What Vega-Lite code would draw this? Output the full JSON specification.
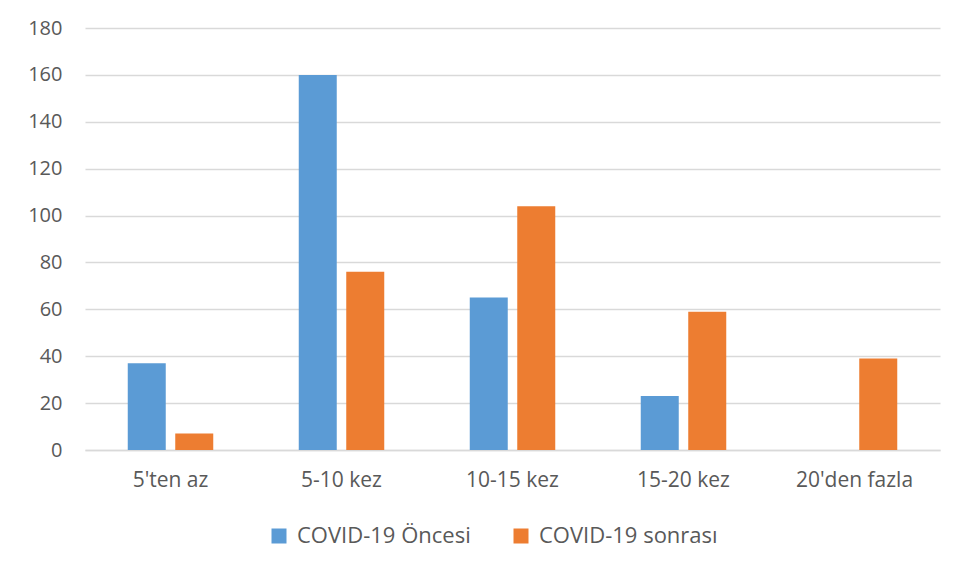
{
  "$schema": "https://vega.github.io/schema/vega-lite/v6.json",
  "width": 855,
  "height": 422,
  "autosize": {"type": "none"},
  "padding": {"left": 85, "top": 28, "right": 19, "bottom": 126},
  "background": "white",
  "config": {
    "view": {"stroke": null},
    "font": "Open Sans"
  },
  "data": {
    "values": [
      {"kategori": "5'ten az", "donem": "COVID-19 Öncesi", "deger": 37},
      {"kategori": "5'ten az", "donem": "COVID-19 sonrası", "deger": 7},
      {"kategori": "5-10 kez", "donem": "COVID-19 Öncesi", "deger": 160},
      {"kategori": "5-10 kez", "donem": "COVID-19 sonrası", "deger": 76},
      {"kategori": "10-15 kez", "donem": "COVID-19 Öncesi", "deger": 65},
      {"kategori": "10-15 kez", "donem": "COVID-19 sonrası", "deger": 104},
      {"kategori": "15-20 kez", "donem": "COVID-19 Öncesi", "deger": 23},
      {"kategori": "15-20 kez", "donem": "COVID-19 sonrası", "deger": 59},
      {"kategori": "20'den fazla", "donem": "COVID-19 Öncesi", "deger": 0},
      {"kategori": "20'den fazla", "donem": "COVID-19 sonrası", "deger": 39}
    ]
  },
  "mark": {"type": "bar"},
  "encoding": {
    "x": {
      "field": "kategori",
      "type": "nominal",
      "sort": ["5'ten az", "5-10 kez", "10-15 kez", "15-20 kez", "20'den fazla"],
      "scale": {"paddingInner": 0.5, "paddingOuter": 0.25},
      "axis": {
        "title": null,
        "labelAngle": 0,
        "labelFont": "Open Sans",
        "labelFontSize": 21,
        "labelColor": "#595959",
        "labelPadding": 19,
        "labelLimit": 0,
        "ticks": false,
        "domain": true,
        "domainColor": "#D9D9D9",
        "domainWidth": 1.5,
        "grid": false
      }
    },
    "xOffset": {
      "field": "donem",
      "type": "nominal",
      "sort": ["COVID-19 Öncesi", "COVID-19 sonrası"],
      "scale": {"paddingInner": 0.2, "paddingOuter": 0}
    },
    "y": {
      "field": "deger",
      "type": "quantitative",
      "scale": {"domain": [0, 180], "nice": false},
      "axis": {
        "title": null,
        "values": [0, 20, 40, 60, 80, 100, 120, 140, 160, 180],
        "labelFont": "Open Sans",
        "labelFontSize": 20,
        "labelColor": "#595959",
        "labelPadding": 23,
        "ticks": false,
        "domain": false,
        "grid": true,
        "gridColor": "#D9D9D9",
        "gridWidth": 1.5
      }
    },
    "color": {
      "field": "donem",
      "type": "nominal",
      "sort": ["COVID-19 Öncesi", "COVID-19 sonrası"],
      "scale": {"domain": ["COVID-19 Öncesi", "COVID-19 sonrası"], "range": ["#5B9BD5", "#ED7D31"]},
      "legend": {
        "title": null,
        "orient": "none",
        "legendX": 183,
        "legendY": 497,
        "direction": "horizontal",
        "symbolType": "square",
        "symbolSize": 225,
        "symbolStrokeWidth": 0,
        "labelFont": "Open Sans",
        "labelFontSize": 22,
        "labelColor": "#595959",
        "labelLimit": 0,
        "labelOffset": 7,
        "columnPadding": 39
      }
    }
  }
}
